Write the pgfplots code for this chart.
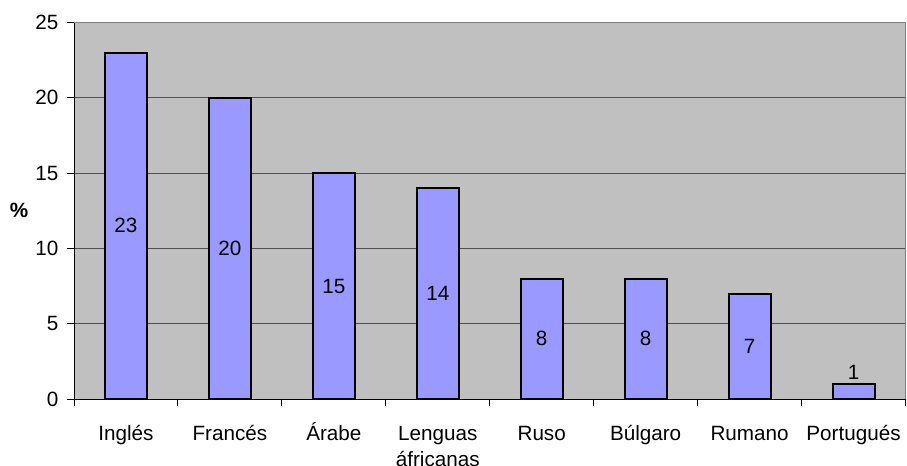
\documentclass[border=0pt]{standalone}
\usepackage{fontspec}
\setmainfont{Liberation Sans}
\usepackage{pgfplots}
\pgfplotsset{compat=1.18}
\definecolor{plotbg}{HTML}{C0C0C0}
\definecolor{barfill}{HTML}{9999FF}
\definecolor{frame}{HTML}{808080}
\definecolor{gridc}{HTML}{505050}
\newcommand{\chartfont}{\fontsize{15.5}{19}\selectfont}
% two-line category name, baseline on the first line
\newcommand{\twolines}[2]{\vtop{\baselineskip=19.5pt\hbox to 0pt{\hss #1\hss}\hbox to 0pt{\hss #2\hss}}}
\begin{document}
\begin{tikzpicture}[font=\chartfont]
\useasboundingbox (0,0) rectangle (680.25pt,348.75pt);
\begin{axis}[
  at={(55.5pt,49.5pt)}, anchor=south west,
  scale only axis, width=623.6pt, height=282.4pt,
  font=\chartfont,
  axis background/.style={fill=plotbg},
  axis x line*=bottom, axis y line*=left,
  axis line style={black, line width=0.75pt},
  xmin=-0.5, xmax=7.5, ymin=0, ymax=25,
  ytick={0,5,...,25},
  xtick={-0.5,0.5,...,7.5},
  xticklabels={},
  extra x ticks={0,...,7},
  extra x tick labels={Inglés,Francés,Árabe,\twolines{Lenguas}{áfricanas},Ruso,Búlgaro,Rumano,Portugués},
  extra x tick style={major tick length=0pt},
  major tick length=5.25pt,
  tick align=outside,
  tick style={black, line width=0.75pt},
  ymajorgrids,
  grid style={gridc, line width=0.75pt},
  /pgf/number format/assume math mode=true,
  tick label style={font=\chartfont},
  xticklabel style={anchor=base, yshift=-31pt, inner ysep=0pt},
  yticklabel style={xshift=-3pt},
  ylabel={\textbf{\%}},
  every axis y label/.style={at={(axis description cs:0,0.5)}, anchor=center, xshift=-41.25pt, font=\chartfont},
  ybar, bar width=31.5pt,
  nodes near coords,
  visualization depends on={rawy \as \yval},
  every node near coord/.append style={font=\chartfont, anchor=center, black,
    yshift={ifthenelse(\yval<2, 9, -\yval*5.648)}},
  clip=false,
]
\addplot[fill=barfill, draw=black, line width=1.5pt] coordinates {
  (0,23) (1,20) (2,15) (3,14) (4,8) (5,8) (6,7) (7,1)
};
\draw[frame, line width=0.75pt] (rel axis cs:0,1) -- (rel axis cs:1,1) -- (rel axis cs:1,0);
\end{axis}
\end{tikzpicture}
\end{document}
